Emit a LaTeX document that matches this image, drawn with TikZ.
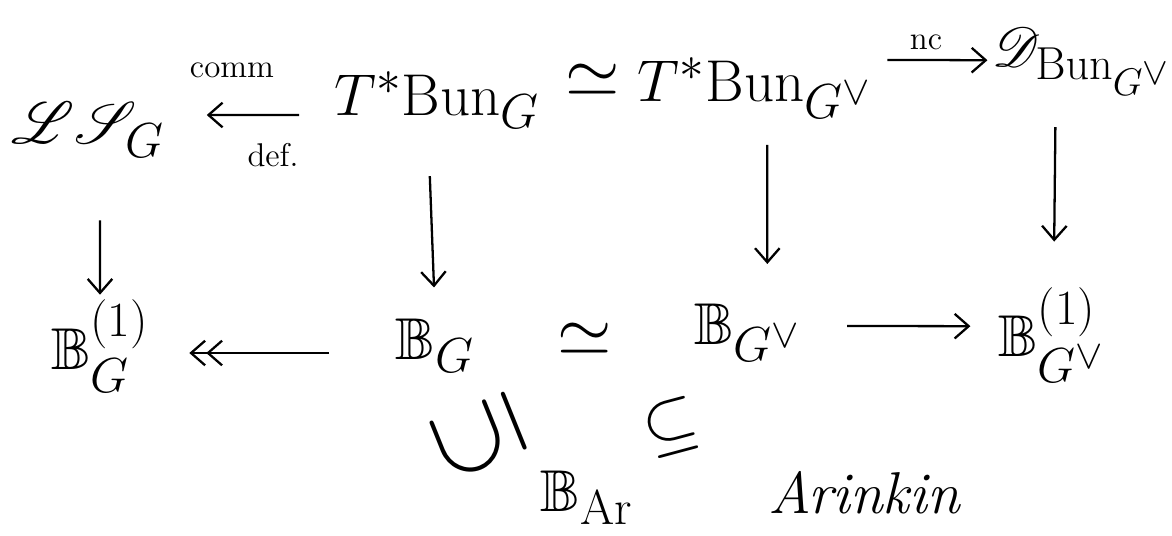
\documentclass[tikz,border=0pt]{standalone}
\usepackage{amsmath,amssymb,mathrsfs,graphicx}
\usetikzlibrary{arrows.meta}
\begin{document}
\begin{tikzpicture}[x=0.02cm,y=0.02cm,
  lab/.style={font=\Huge, scale=1.35, transform shape, inner sep=2pt},
  rel/.style={font=\Huge, scale=1.6, transform shape, inner sep=1pt},
  small/.style={font=\Large, scale=1.3, transform shape, inner sep=1pt},
  arr/.style={line width=1.3pt, -{Straight Barb[length=8pt,width=14pt]}},
  darr/.style={line width=1.3pt, -{Straight Barb[length=8pt,width=14pt]Straight Barb[length=8pt,width=14pt]}}]
\useasboundingbox (0,0) rectangle (1172,536);
% top row
\node[lab] (LS)   at (88,406)  {$\mathscr{L}\mathscr{S}_G$};
\node[lab] (TBG)  at (437,436) {$T^*\mathrm{Bun}_G$};
\node[rel] (eq1)  at (593,456) {$\simeq$};
\node[lab] (TBGv) at (755,448) {$T^*\mathrm{Bun}_{G^\vee}$};
\node[lab, scale=0.94] (D) at (1082,474) {$\mathscr{D}_{\mathrm{Bun}_{G^\vee}}$};
% bottom row
\node[lab] (B1G)  at (100,190) {$\mathbb{B}^{(1)}_G$};
\node[lab] (BG)   at (435,190) {$\mathbb{B}_G$};
\node[rel] (eq2)  at (585,197) {$\simeq$};
\node[lab] (BGv)  at (748,203) {$\mathbb{B}_{G^\vee}$};
\node[lab] (B1Gv) at (1052,201) {$\mathbb{B}^{(1)}_{G^\vee}$};
% Arinkin part
\node[rel, scale=1.5, rotate=112] (inc1) at (479,99) {$\subseteq$};
\node[lab] (BAr)  at (587,38)  {$\mathbb{B}_{\mathrm{Ar}}$};
\node[rel, rotate=15] (inc2) at (671,108) {$\subseteq$};
\node[lab] (Ark)  at (864,43)  {\itshape Arinkin};
% horizontal arrows
\draw[arr, shorten <=17pt, shorten >=21pt] ([yshift=-8.5pt]TBG.west) -- ([yshift=8.5pt]LS.east);
\node[small] (comm) at (232,466) {comm};
\node[small] (def)  at (273,381) {def.};
\draw[arr, shorten <=5.7pt, shorten >=0pt] ([yshift=16pt]TBGv.east) -- ([yshift=1pt]D.west);
\node[small] (nc) at (926,494) {nc};
\draw[darr, shorten <=35pt, shorten >=20pt] ([yshift=-4pt]BG.west) -- ([yshift=-4pt]B1G.east);
\draw[arr, shorten <=23pt, shorten >=13pt] ([yshift=4pt]BGv.east) -- ([yshift=5pt]B1Gv.west);
% vertical arrows
\draw[arr, shorten <=33pt, shorten >=0pt] ([xshift=6.8pt]LS.south) -- (B1G.north);
\draw[arr, shorten <=24pt, shorten >=15pt] ([xshift=-5pt]TBG.south) -- (BG.north);
\draw[arr, shorten <=12pt, shorten >=20pt] ([xshift=7pt]TBGv.south) -- ([xshift=11pt]BGv.north);
\draw[arr, shorten <=15pt, shorten >=23pt] ([xshift=-15pt]D.south) -- ([xshift=1pt]B1Gv.north);
\end{tikzpicture}
\end{document}
